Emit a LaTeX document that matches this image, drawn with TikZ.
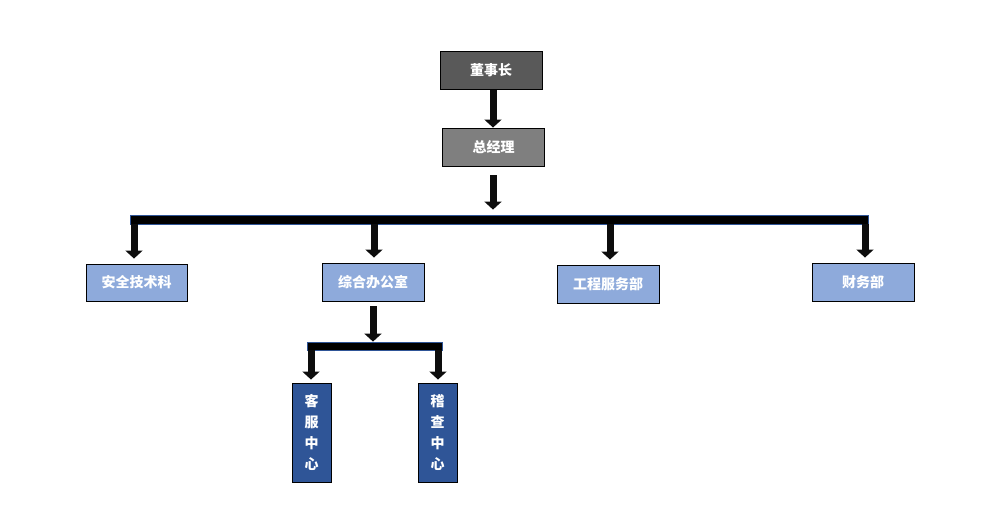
\documentclass[tikz,border=0pt]{standalone}
\usepackage{fontspec}
\newfontfamily\cjk{Noto Sans CJK SC}
\usetikzlibrary{arrows.meta,positioning,calc}

\definecolor{topgray}{HTML}{595959}
\definecolor{midgray}{HTML}{7F7F7F}
\definecolor{deptblue}{HTML}{8EAADB}
\definecolor{centblue}{HTML}{2F5597}
\definecolor{barline}{HTML}{2F5597}

\begin{document}
\begin{tikzpicture}[
  x=1pt, y=-1pt,
  font=\cjk\bfseries\fontsize{14}{21}\selectfont,
  box/.style={draw=black, line width=0.9pt, text=white, align=center, inner sep=0pt,
              minimum width=102pt, minimum height=38pt},
  vbox/.style={box, fill=centblue, minimum width=39pt, minimum height=99pt},
  bar/.style={fill=black, draw=barline, line width=0.8pt, inner sep=0pt},
  arr/.style={draw=black!95, line width=7pt, -{Triangle[width=17pt,length=8pt]}}
]
  \useasboundingbox (0,0) rectangle (997,531);

  % top levels
  \node[box, fill=topgray] (dsz) at (491,70.5) {董事长};
  \node[box, fill=midgray] (zjl) at (493.5,147) {总经理};
  \node[bar, minimum width=738pt, minimum height=9pt] (bar) at (499,219.5) {};

  % departments
  \node[box, fill=deptblue, minimum width=101pt, minimum height=37pt] (aqjs) at (136.5,282.5) {安全技术科};
  \node[box, fill=deptblue] (zhbg) at (373,282) {综合办公室};
  \node[box, fill=deptblue] (gcfw) at (608,284) {工程服务部};
  \node[box, fill=deptblue] (cwb) at (863,282) {财务部};

  % centres under the office
  \node[bar, minimum width=135pt, minimum height=8pt] (subbar) at (374.5,346) {};
  \node[vbox] (kfzx) at (311.5,432.5) {客\\服\\中\\心};
  \node[vbox] (jczx) at (437.5,432.5) {稽\\查\\中\\心};

  \draw[arr] (dsz.south -| 493,0) -- (zjl.north -| 493,0);
  \draw[arr, shorten <=9pt, shorten >=5pt] (zjl.south -| 493,0) -- (bar.north -| 493,0);
  \foreach \dept/\xx in {aqjs/134, zhbg/374, gcfw/610, cwb/865}
    \draw[arr, shorten >=5pt] (bar.south -| \xx,0) -- (\dept.north -| \xx,0);

  \draw[arr, shorten <=5pt] (zhbg.south) -- (subbar.north -| zhbg.south);
  \draw[arr, shorten >=3pt] (subbar.south -| 311,0) -- (kfzx.north -| 311,0);
  \draw[arr, shorten >=3pt] (subbar.south -| 438,0) -- (jczx.north -| 438,0);
\end{tikzpicture}
\end{document}
